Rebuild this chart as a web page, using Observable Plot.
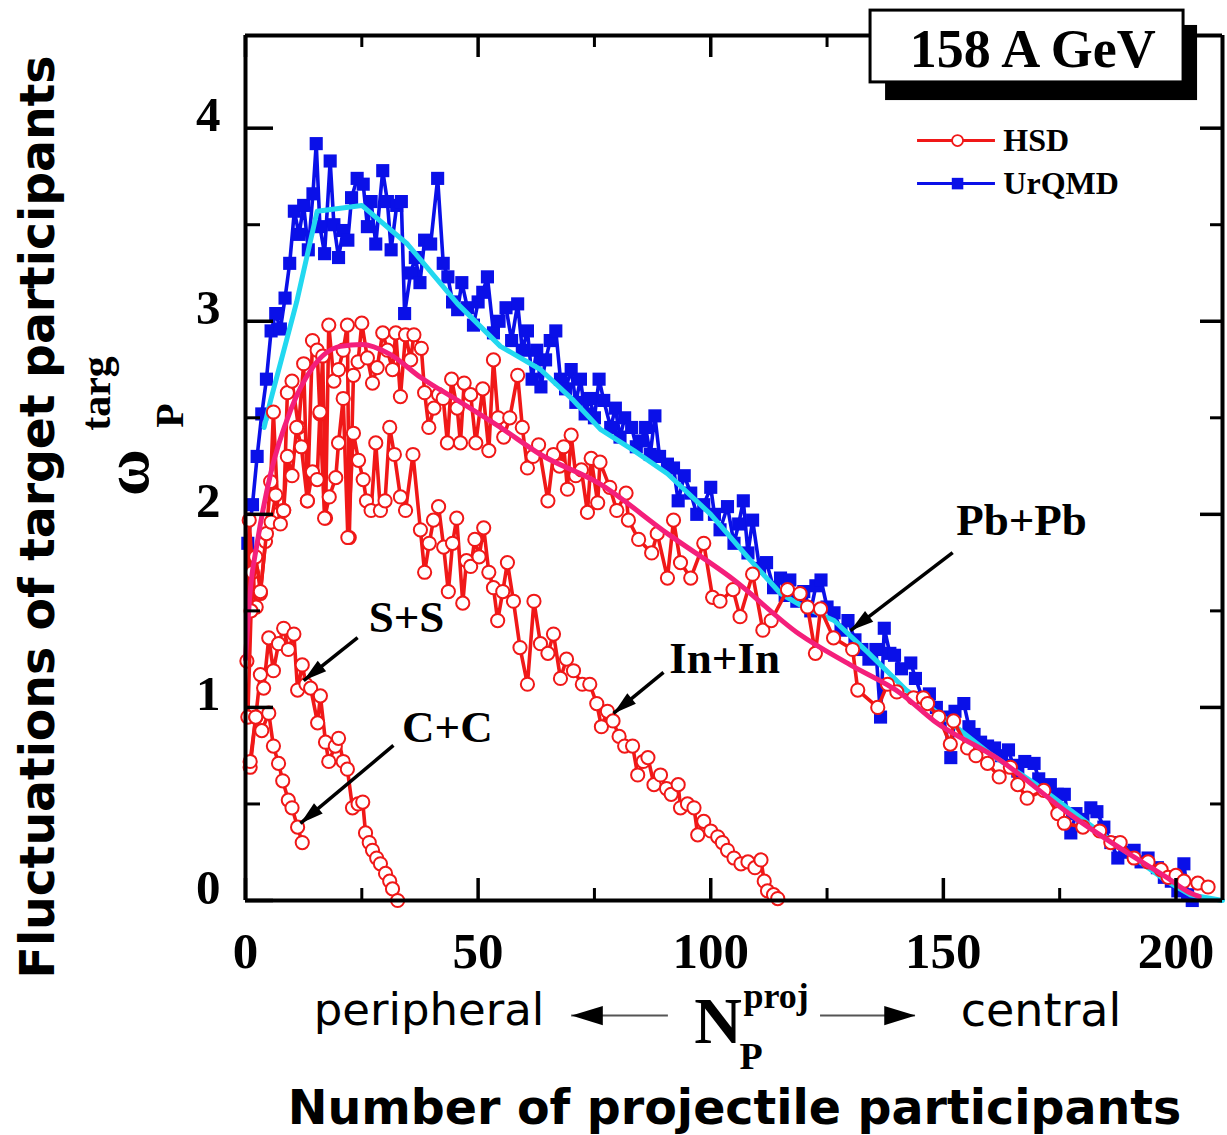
<!DOCTYPE html>
<html><head><meta charset="utf-8">
<script src="https://cdn.jsdelivr.net/npm/d3@7"></script>
<script src="https://cdn.jsdelivr.net/npm/@observablehq/plot@0.6"></script>
<style>body{margin:0;background:#fff}</style>
</head><body><div id="chart"></div>
<script>
// ---------- data: [N_P^proj, omega_P^targ] ----------
const urqmdPb = [[0.5,1.85],[1.5,2.05],[2.5,2.3],[3.5,2.52],[4.5,2.7],[5.5,2.95],[6.5,3.04],[7.5,2.96],[8.5,3.12],[9.5,3.3],[10.5,3.57],[11.5,3.45],[12.5,3.6],[13.5,3.37],[14.5,3.66],[15.2,3.92],[16,3.49],[17,3.35],[18.2,3.83],[19,3.5],[20,3.33],[21,3.47],[22,3.42],[22.8,3.64],[24,3.74],[25.3,3.71],[26.2,3.49],[27,3.62],[28,3.4],[29.5,3.78],[30.5,3.62],[31.3,3.37],[32.5,3.6],[33.5,3.62],[34.2,3.04],[35.5,3.25],[36.5,3.33],[37.5,3.2],[38.5,3.42],[39.8,3.4],[41.3,3.74],[42.5,3.3],[43.5,3.23],[44.5,3.1],[45.6,3.06],[46.5,3.2],[47.7,3.07],[49,2.98],[50,3.1],[51,3.15],[52,3.23],[53.3,2.94],[54.5,3.0],[56,3.07],[57.2,2.9],[58.5,3.09],[59.5,2.85],[60.6,2.95],[61.6,2.7],[62.6,2.85],[63.5,2.66],[64.5,2.8],[65.5,2.9],[66.7,2.95],[67.7,2.7],[68.8,2.65],[70,2.75],[71,2.58],[72,2.7],[73,2.52],[74,2.6],[75,2.5],[76,2.7],[77,2.59],[78.5,2.45],[79.5,2.55],[80.5,2.4],[81.5,2.5],[83,2.45],[84,2.35],[85,2.38],[86,2.45],[87,2.31],[88,2.51],[89,2.3],[90.7,2.26],[92,2.24],[93,2.07],[94.3,2.2],[95.7,2.11],[97,2.0],[98.5,2.05],[100,2.14],[100.8,2.0],[102,1.92],[103.6,2.04],[105,1.85],[106,1.95],[107,2.07],[108,1.8],[109,1.97],[110.5,1.72],[112,1.75],[113.5,1.62],[115,1.67],[116,1.58],[117,1.66],[118.5,1.55],[120,1.6],[121.5,1.5],[122.6,1.63],[123.7,1.66],[125,1.52],[126.5,1.49],[128,1.4],[129.5,1.45],[131,1.35],[132.5,1.3],[134,1.25],[135.5,1.3],[136.5,0.95],[137.3,1.41],[138.5,1.28],[139.5,1.27],[141,1.2],[143,1.23],[144,1.15],[145.5,1.05],[147,1.07],[148.5,1.0],[150,0.95],[151.6,0.74],[152.5,0.98],[154.4,1.02],[155.5,0.9],[156.6,0.86],[158,0.82],[159.5,0.8],[161,0.79],[162.5,0.75],[164,0.78],[165,0.7],[166,0.67],[167.5,0.72],[169.5,0.71],[170.5,0.63],[171.6,0.59],[173,0.6],[174.5,0.55],[176,0.55],[177.4,0.35],[178.5,0.45],[180,0.42],[181.7,0.48],[183,0.46],[184.5,0.38],[186,0.3],[187.5,0.22],[189,0.25],[191,0.26],[192.5,0.2],[194,0.22],[196,0.17],[197.5,0.12],[199,0.1],[200.4,0.05],[201.7,0.19],[202.5,0.03],[203.5,0.0]];

const urqmdFit = [[4,2.45],[5.4,2.59],[11,3.1],[15.4,3.57],[25,3.6],[34.8,3.4],[45.6,3.09],[54.8,2.87],[63.4,2.75],[70.5,2.59],[76.3,2.44],[83.5,2.33],[90.7,2.21],[100,2.0],[108.6,1.76],[115,1.59],[120,1.52],[126.5,1.45],[134,1.28],[142,1.09],[150,0.95],[160,0.76],[170,0.6],[180,0.42],[190,0.24],[198,0.1],[203,0.03],[210,0.0]];

const hsdPb = [[0.3,1.24],[0.8,1.97],[1.5,1.7],[2.3,1.52],[3.2,1.59],[4.3,1.86],[5.4,2.17],[6,2.53],[7,2.0],[8.2,2.02],[9,2.63],[10,2.69],[11.4,2.45],[12.5,2.78],[13.3,2.07],[14.4,2.9],[15.4,2.85],[16,2.52],[16.6,2.82],[17.2,1.98],[17.9,2.98],[19,2.69],[20,2.75],[21,2.85],[21.9,2.98],[22.3,1.88],[23.2,2.72],[24.2,2.79],[25,2.99],[26.2,2.81],[27.3,2.68],[28.3,2.76],[29.5,2.94],[30.5,2.85],[31.6,2.75],[32.3,2.94],[33.3,2.61],[34.4,2.93],[35.5,2.8],[36.2,2.93],[37.8,2.86],[38.5,2.63],[39.4,2.45],[40.5,2.55],[41.5,2.62],[42.5,2.6],[43.4,2.37],[44.3,2.7],[45.5,2.55],[46.2,2.37],[47,2.68],[48.4,2.62],[49.5,2.37],[51,2.65],[52.3,2.33],[53.3,2.8],[54.3,2.5],[55.5,2.4],[56.8,2.5],[58.5,2.72],[59.5,2.45],[60.6,2.24],[61.8,2.3],[63,2.36],[65,2.07],[66.2,2.31],[67.5,2.25],[68.4,2.35],[69.2,2.13],[70,2.41],[71,2.2],[72.2,2.23],[73.5,2.01],[74.3,2.29],[75.7,2.06],[76.2,2.27],[78.3,2.14],[79.8,2.02],[81.8,2.11],[82.3,1.97],[84.5,1.87],[87.3,1.8],[88.5,1.9],[90.7,1.67],[92,1.97],[93.5,1.75],[95.7,1.67],[98.5,1.85],[100.4,1.57],[102,1.55],[104.8,1.61],[106.3,1.47],[109,1.69],[111.2,1.4],[113,1.45],[116.5,1.61],[119.2,1.59],[120.8,1.52],[122.5,1.28],[123.6,1.51],[126.4,1.36],[130.5,1.3],[131.6,1.09],[135.9,1.0],[138,1.12],[140,1.08],[143.6,1.05],[145.7,1.05],[146.6,1.02],[149,0.95],[151.5,0.81],[152.2,0.93],[155.2,0.79],[157,0.75],[159.5,0.71],[162,0.64],[164.4,0.69],[166,0.6],[168,0.53],[171.6,0.57],[174.6,0.45],[176,0.4],[180,0.38],[183.6,0.36],[186,0.3],[188,0.3],[191,0.22],[194,0.2],[196.8,0.16],[198.3,0.12],[200,0.13],[201.7,0.1],[204.7,0.09],[206.9,0.07]];

const hsdFit = [[0,1.25],[1,1.6],[2.5,1.85],[5.4,2.21],[9.7,2.54],[14.4,2.76],[20.4,2.87],[25,2.88],[31,2.83],[37.6,2.71],[45.6,2.59],[54.8,2.45],[63.4,2.31],[76,2.16],[90.7,1.9],[105,1.66],[119,1.38],[130,1.22],[141,1.07],[148,0.93],[162,0.73],[177,0.45],[190,0.24],[198,0.12],[203,0.04],[205,0.02]];

const hsdIn = [[0.5,0.95],[1.2,1.5],[2.2,1.78],[3.2,1.6],[4.5,1.9],[5.5,1.96],[6.5,2.1],[7.5,1.95],[8.2,2.02],[9,2.3],[10,2.2],[11,2.45],[12,2.35],[13.3,2.07],[14.4,2.22],[15.4,2.18],[16,2.53],[17,1.98],[18,2.09],[19.4,2.19],[20,2.37],[21,2.6],[22,1.88],[23.2,2.42],[24.3,2.28],[25.3,2.18],[26,2.07],[27,2.02],[28,2.37],[29,2.02],[30,2.07],[31,2.45],[32,2.31],[33.3,2.09],[34.4,2.02],[36,2.31],[37.6,1.92],[38.5,1.7],[39.5,1.85],[40.4,1.97],[41.5,2.04],[42.6,1.83],[43.6,1.6],[44.5,1.85],[45.4,1.98],[46.7,1.54],[47.5,1.76],[48.4,1.73],[49.3,1.87],[50.2,1.78],[51.2,1.93],[52.3,1.7],[53.3,1.62],[54.2,1.45],[55.3,1.6],[56.3,1.75],[57.6,1.55],[59,1.31],[60.6,1.12],[62,1.55],[63.4,1.33],[65,1.28],[66.2,1.38],[67.7,1.15],[69,1.25],[70.5,1.19],[72.4,1.12],[74,1.12],[75.5,1.02],[76.5,0.9],[77.8,0.98],[79,0.93],[80.3,0.85],[81.5,0.8],[83.2,0.8],[84.3,0.65],[85.5,0.72],[86.5,0.74],[87.8,0.6],[89.2,0.65],[90.5,0.58],[91.5,0.55],[93,0.6],[93.5,0.48],[95,0.5],[96.4,0.48],[97.2,0.34],[98.5,0.41],[100,0.36],[101.5,0.33],[102.5,0.3],[103.6,0.26],[105,0.22],[106.5,0.19],[108,0.2],[109.5,0.17],[110.8,0.21],[111.5,0.1],[112.2,0.05],[113.5,0.03],[114.4,0.01]];

const hsdS = [[1,0.69],[2.2,0.95],[3.2,1.17],[3.9,1.1],[5,1.36],[6,1.19],[7.1,1.33],[8.2,1.41],[9.2,1.3],[10.4,1.38],[11.2,1.09],[12.2,1.22],[13,1.12],[14,1.1],[15.5,0.92],[16.1,1.06],[17.2,0.82],[17.9,0.72],[19.3,0.8],[20,0.84],[21,0.72],[21.9,0.68],[23,0.48],[24.2,0.5],[25.2,0.51],[25.8,0.35],[26.6,0.3],[27.3,0.26],[28.2,0.22],[29,0.19],[30.1,0.14],[31,0.1],[31.6,0.06],[32.7,0.0]];

const hsdC = [[1,0.72],[2.2,0.95],[3.5,0.88],[5,0.97],[6,0.8],[7.1,0.71],[8,0.62],[9.2,0.52],[10,0.48],[11.2,0.38],[12.2,0.3]];

// ---------- axes ----------
const xTicks = [0, 50, 100, 150, 200];
const xMinor = [25, 75, 125, 175];
const yTicks = [0, 1, 2, 3, 4];
const yMinor = [0.5, 1.5, 2.5, 3.5];

// ---------- annotations (data units) ----------
const systemLabels = [
  {text: "S+S", x: 34.6, y: 1.466},
  {text: "C+C", x: 43.4, y: 0.896},
  {text: "In+In", x: 103.0, y: 1.254},
  {text: "Pb+Pb", x: 166.8, y: 1.968}
];
const pointers = [
  {x1: 24.1, y1: 1.362, x2: 12.5, y2: 1.139},
  {x1: 31.8, y1: 0.803, x2: 11.8, y2: 0.399},
  {x1: 89.85, y1: 1.181, x2: 79.1, y2: 0.969},
  {x1: 152.0, y1: 1.802, x2: 130.05, y2: 1.398}
];
const energyLabel = {text: "158 A GeV", x: 169.2, y: 4.407};
const energyBox = {x1: 134.35, x2: 201.63, y1: 4.237, y2: 4.609};
const energyShadow = {x1: 137.58, x2: 204.64, y1: 4.143, y2: 4.532};
const legendItems = [
  {name: "HSD", x1: 144.45, x2: 161.2, xm: 153.05, xt: 162.9, y: 3.936},
  {name: "UrQMD", x1: 144.45, x2: 161.2, xm: 153.05, xt: 162.9, y: 3.713}
];
const centralityArrows = [
  {x1: 90.9, x2: 70.1, y: -0.596},
  {x1: 123.6, x2: 144.0, y: -0.596}
];

// ---------- geometry ----------
const W = 1227, H = 1135;
const M = {left: 245, right: 5, top: 35, bottom: 235};
const X_DOMAIN = [0, 210], Y_DOMAIN = [0, 4.48];
const xs = d3.scaleLinear(X_DOMAIN, [M.left, W - M.right]);
const ys = d3.scaleLinear(Y_DOMAIN, [H - M.bottom, M.top]);
const ux = p => p / (xs(1) - xs(0));
const uy = p => p / (ys(0) - ys(1));
const angle = (a) => {
  const dx = xs(a.x2) - xs(a.x1), dy = ys(a.y2 ?? a.y) - ys(a.y1 ?? a.y);
  return Math.atan2(dx, -dy) * 180 / Math.PI;
};
// arrow-head symbols with apex at the origin, pointing up
const makeHead = (lf, wf) => ({
  draw(ctx, size) {
    const r = Math.sqrt(size / Math.PI);
    const L = lf * r, w = wf * r;
    ctx.moveTo(0, 0); ctx.lineTo(-w / 2, L); ctx.lineTo(w / 2, L); ctx.closePath();
  }
});
const headSymbol = makeHead(2.6, 1.5);
const headSymbol2 = makeHead(2.6, 1.6);

const RED = "#f01818", BLUE = "#0a10e8", CYAN = "#22d8f0", PINK = "#f41f7b";
const SERIF = "Liberation Serif, Times New Roman, serif";
const SANS = "DejaVu Sans, sans-serif";
const px = d => d[0], py = d => d[1];

const hsdMarks = (data) => [
  Plot.line(data, {x: px, y: py, stroke: RED, strokeWidth: 3.6}),
  Plot.dot(data, {x: px, y: py, symbol: "circle", r: 6.6, fill: "white", stroke: RED, strokeWidth: 2})
];

const chart = Plot.plot({
  width: W, height: H,
  marginLeft: M.left, marginRight: M.right, marginTop: M.top, marginBottom: M.bottom,
  x: {domain: X_DOMAIN, axis: null},
  y: {domain: Y_DOMAIN, axis: null},
  style: {background: "white", overflow: "visible"},
  marks: [
    // UrQMD
    Plot.line(urqmdPb, {x: px, y: py, stroke: BLUE, strokeWidth: 3.6}),
    Plot.dot(urqmdPb, {x: px, y: py, symbol: "square", r: 7.4, fill: BLUE}),
    Plot.line(urqmdFit, {x: px, y: py, stroke: CYAN, strokeWidth: 5}),
    // HSD
    ...hsdMarks(hsdPb),
    ...hsdMarks(hsdIn),
    ...hsdMarks(hsdS),
    ...hsdMarks(hsdC),
    Plot.line(hsdFit, {x: px, y: py, stroke: PINK, strokeWidth: 5, curve: "monotone-x"}),

    // frame
    Plot.ruleX(X_DOMAIN, {stroke: "black", strokeWidth: 4}),
    Plot.ruleY(Y_DOMAIN, {stroke: "black", strokeWidth: 4}),
    // ticks (inward)
    Plot.ruleY(yTicks, {y: d => d, x1: 0, x2: ux(28), stroke: "black", strokeWidth: 3.5}),
    Plot.ruleY(yMinor, {y: d => d, x1: 0, x2: ux(15), stroke: "black", strokeWidth: 3}),
    Plot.ruleY(yTicks, {y: d => d, x1: X_DOMAIN[1] - ux(22), x2: X_DOMAIN[1], stroke: "black", strokeWidth: 3.5}),
    Plot.ruleY(yMinor, {y: d => d, x1: X_DOMAIN[1] - ux(12), x2: X_DOMAIN[1], stroke: "black", strokeWidth: 3}),
    Plot.ruleX(xTicks, {x: d => d, y1: 0, y2: uy(22), stroke: "black", strokeWidth: 3.5}),
    Plot.ruleX(xMinor, {x: d => d, y1: 0, y2: uy(12), stroke: "black", strokeWidth: 3}),
    Plot.ruleX(xTicks, {x: d => d, y1: Y_DOMAIN[1] - uy(22), y2: Y_DOMAIN[1], stroke: "black", strokeWidth: 3.5}),
    Plot.ruleX(xMinor, {x: d => d, y1: Y_DOMAIN[1] - uy(12), y2: Y_DOMAIN[1], stroke: "black", strokeWidth: 3}),
    // tick labels
    Plot.text(yTicks, {x: 0, y: d => d, text: d => String(d), textAnchor: "end", lineAnchor: "bottom", dx: -25, dy: 3,
      fontFamily: SERIF, fontWeight: "bold", fontSize: 49, fill: "black"}),
    Plot.text(xTicks, {x: d => d, y: 0, text: d => String(d), textAnchor: "middle", lineAnchor: "bottom", dy: 67,
      fontFamily: SERIF, fontWeight: "bold", fontSize: 51, fill: "black"}),

    // title box
    Plot.rect([energyShadow], {x1: "x1", x2: "x2", y1: "y1", y2: "y2", fill: "black"}),
    Plot.rect([energyBox], {x1: "x1", x2: "x2", y1: "y1", y2: "y2", fill: "white", stroke: "black", strokeWidth: 3}),
    Plot.text([energyLabel], {x: "x", y: "y", text: "text", textAnchor: "middle", lineAnchor: "middle",
      fontFamily: SERIF, fontWeight: "bold", fontSize: 54, fill: "black"}),

    // legend
    Plot.ruleY([legendItems[0]], {y: "y", x1: "x1", x2: "x2", stroke: RED, strokeWidth: 3}),
    Plot.dot([legendItems[0]], {x: "xm", y: "y", symbol: "circle", r: 5.5, fill: "white", stroke: RED, strokeWidth: 1.8}),
    Plot.ruleY([legendItems[1]], {y: "y", x1: "x1", x2: "x2", stroke: BLUE, strokeWidth: 3}),
    Plot.dot([legendItems[1]], {x: "xm", y: "y", symbol: "square", r: 6.5, fill: BLUE}),
    Plot.text(legendItems, {x: "xt", y: "y", text: "name", textAnchor: "start", lineAnchor: "middle",
      fontFamily: SERIF, fontWeight: "bold", fontSize: 32, fill: "black"}),

    // system labels + pointers
    Plot.link(pointers, {x1: "x1", y1: "y1", x2: "x2", y2: "y2", stroke: "black", strokeWidth: 3.5}),
    Plot.dot(pointers, {x: "x2", y: "y2", rotate: angle, symbol: headSymbol, r: 9, fill: "black"}),
    Plot.text(systemLabels, {x: "x", y: "y", text: "text", textAnchor: "middle", lineAnchor: "middle",
      fontFamily: SERIF, fontWeight: "bold", fontSize: 45, fill: "black"}),

    // below-axis annotation
    Plot.ruleY(centralityArrows, {y: "y", x1: "x1", x2: "x2", stroke: "#555", strokeWidth: 2}),
    Plot.dot(centralityArrows, {x: "x2", y: "y", rotate: angle, symbol: headSymbol2, r: 12, fill: "black"}),
    Plot.text(["peripheral"], {frameAnchor: "bottom", dx: -305, dy: 124, textAnchor: "middle", lineAnchor: "bottom",
      fontFamily: SANS, fontSize: 45, fill: "black"}),
    Plot.text(["central"], {frameAnchor: "bottom", dx: 307, dy: 125, textAnchor: "middle", lineAnchor: "bottom",
      fontFamily: SANS, fontSize: 46, fill: "black"}),
    Plot.text(["N"], {frameAnchor: "bottom", dx: -16, dy: 142, textAnchor: "middle", lineAnchor: "bottom",
      fontFamily: SERIF, fontWeight: "bold", fontSize: 66, fill: "black"}),
    Plot.text(["proj"], {frameAnchor: "bottom", dx: 9.5, dy: 107, textAnchor: "start", lineAnchor: "bottom",
      fontFamily: SERIF, fontWeight: "bold", fontSize: 36, fill: "black"}),
    Plot.text(["P"], {frameAnchor: "bottom", dx: 5.5, dy: 168, textAnchor: "start", lineAnchor: "bottom",
      fontFamily: SERIF, fontWeight: "bold", fontSize: 38, fill: "black"}),
    Plot.text(["Number of projectile participants"], {frameAnchor: "bottom", dx: 0.5, dy: 223, textAnchor: "middle", lineAnchor: "bottom",
      fontFamily: SANS, fontWeight: "bold", fontSize: 47.5, fill: "black"}),

    // y-axis titles
    Plot.text(["Fluctuations of target participants"], {frameAnchor: "left", dx: -192, dy: 49, rotate: -90,
      textAnchor: "middle", lineAnchor: "bottom", fontFamily: SANS, fontWeight: "bold", fontSize: 47.3, fill: "black"}),
    Plot.text(["ω"], {frameAnchor: "left", dx: -98, dy: 4.5, rotate: -90, textAnchor: "middle", lineAnchor: "bottom",
      fontFamily: SERIF, fontWeight: "bold", fontSize: 64, fill: "black"}),
    Plot.text(["targ"], {frameAnchor: "left", dx: -136, dy: -74.5, rotate: -90, textAnchor: "middle", lineAnchor: "bottom",
      fontFamily: SERIF, fontWeight: "bold", fontSize: 42, fill: "black"}),
    Plot.text(["P"], {frameAnchor: "left", dx: -63, dy: -52.5, rotate: -90, textAnchor: "middle", lineAnchor: "bottom",
      fontFamily: SERIF, fontWeight: "bold", fontSize: 40, fill: "black"})
  ]
});
document.getElementById("chart").append(chart);
</script>
</body></html>
